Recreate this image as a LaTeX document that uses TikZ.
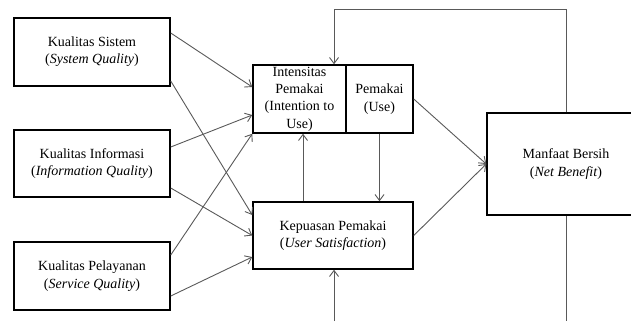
\documentclass[tikz,border=0pt]{standalone}
\usepackage{fontspec}
\setmainfont{Liberation Serif}
\usetikzlibrary{arrows.meta}
\begin{document}
\begin{tikzpicture}[x=1pt,y=-1pt,
 box/.style={draw=black,line width=1.5pt,inner sep=0pt,align=center,fill=white,
   font=\fontsize{14}{17.3}\selectfont},
 conn/.style={draw=black!65,line width=0.9pt,
   -{Straight Barb[length=6pt,width=9pt,line width=0.9pt]}},
 plainline/.style={draw=black!65,line width=0.9pt}]
\useasboundingbox (0,0) rectangle (631,321);
\begin{scope}
\clip (0,0) rectangle (631,321);
% nodes
\node[box,minimum width=156pt,minimum height=68pt] (sq) at (92,52)
  {Kualitas Sistem\\(\textit{System Quality})};
\node[box,minimum width=156pt,minimum height=67pt] (iq) at (92,163.5)
  {Kualitas Informasi\\(\textit{Information Quality})};
\node[box,minimum width=156pt,minimum height=68pt] (svq) at (92,276)
  {Kualitas Pelayanan\\(\textit{Service Quality})};
\node[box,minimum width=93pt,minimum height=68pt] (int) at (299.5,99)
  {Intensitas\\Pemakai\\(Intention to\\Use)};
\node[box,minimum width=67pt,minimum height=68pt] (use) at (379.5,99)
  {Pemakai\\(Use)};
\node[box,minimum width=160pt,minimum height=67pt] (kep) at (333,235.5)
  {Kepuasan Pemakai\\(\textit{User Satisfaction})};
\node[box,minimum width=158pt,minimum height=102pt] (mb) at (566,164)
  {Manfaat Bersih\\(\textit{Net Benefit})};
\coordinate (fbtop) at (450,9.5);
\coordinate (botL) at (334,321);
\coordinate (botR) at (566,321);
% connectors
\draw[conn] ([yshift=19pt]sq.east) -- ([yshift=12pt]int.west);
\draw[conn] ([yshift=-29pt]sq.east) -- ([yshift=20.5pt]kep.west);
\draw[conn] ([yshift=16.5pt]iq.east) -- ([yshift=-16pt]int.west);
\draw[conn] ([yshift=-24.5pt]iq.east) -- (kep.west);
\draw[conn] ([yshift=21pt]svq.east) -- (int.south west);
\draw[conn] ([yshift=-20pt]svq.east) -- ([yshift=-21.5pt]kep.west);
\draw[conn] (use.east) -- (mb.west);
\draw[conn] (kep.east) -- (mb.west);
\draw[conn] ([xshift=-30pt]kep.north) -- ([xshift=-30pt]kep.north |- int.south);
\draw[conn] (use.south) -- (use.south |- kep.north);
\draw[conn] (mb.north) |- (fbtop) -| ([xshift=34.5pt]int.north);
\draw[conn] (botL) -- (botL |- kep.south);
\draw[plainline] (mb.south) -- (botR);
\end{scope}
\end{tikzpicture}
\end{document}
